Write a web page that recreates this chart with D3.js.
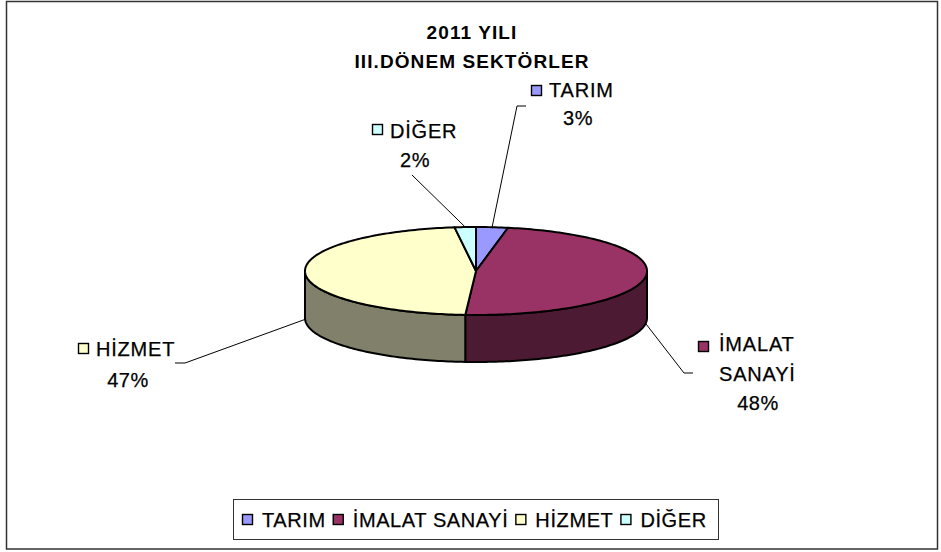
<!DOCTYPE html>
<html>
<head>
<meta charset="utf-8">
<script src="https://cdn.jsdelivr.net/npm/d3@7"></script>
<style>
html,body{margin:0;padding:0;background:#fff;}
svg{display:block;}
text{font-family:"Liberation Sans",Arial,sans-serif;fill:#000;}
.lbl{stroke:#000;stroke-width:0.25px;}
</style>
</head>
<body>
<svg id="chart" width="941" height="552"></svg>
<script>
// ---- data ----
const categories = ["TARIM", "İMALAT SANAYİ", "HİZMET", "DİĞER"];
const values = [3, 48, 47, 2];
const labelLines = [["TARIM"], ["İMALAT", "SANAYİ"], ["HİZMET"], ["DİĞER"]];
const topColors = ["#9999FF", "#993366", "#FFFFCC", "#CCFFFF"];
const sideColors = ["#4D4D80", "#4D1A33", "#80806B", "#668080"];
const titleLines = ["2011 YILI", "III.DÖNEM SEKTÖRLER"];

// ---- layout ----
const cx = 476, cy = 271, rx = 171, ry = 44, depth = 47;
const svg = d3.select("#chart");

// frame
svg.append("rect").attr("x", 6.5).attr("y", 1.5).attr("width", 931).attr("height", 547.5)
  .attr("fill", "#fff").attr("stroke", "#333").attr("stroke-width", 1.5);

// title
svg.selectAll("text.title").data(titleLines).enter().append("text")
  .attr("class", "title")
  .attr("x", 472).attr("y", (d, i) => 39 + i * 29)
  .attr("text-anchor", "middle")
  .style("font-weight", "bold").style("font-size", "19px")
  .style("letter-spacing", "1.1px")
  .text(d => d);

const total = d3.sum(values);
const pie = d3.pie().sort(null).value(d => d).startAngle(0).endAngle(2 * Math.PI);
const arcs = pie(values);
const pct = d3.format(".0%");

const px = a => cx + rx * Math.sin(a);
const py = (a, z) => cy - ry * Math.cos(a) + (z || 0);

function ellArc(a0, a1, z) {
  const n = Math.max(2, Math.ceil(Math.abs(a1 - a0) / 0.02));
  return d3.range(n + 1).map(i => {
    const a = a0 + (a1 - a0) * i / n;
    return [px(a), py(a, z)];
  });
}

const line = d3.line();
const gSide = svg.append("g");
const gTop = svg.append("g");

// side walls (front half)
arcs.forEach((d, i) => {
  const a0 = Math.max(d.startAngle, Math.PI / 2);
  const a1 = Math.min(d.endAngle, 3 * Math.PI / 2);
  if (a1 <= a0) return;
  const pts = ellArc(a0, a1, 0).concat(ellArc(a1, a0, depth));
  gSide.append("path").attr("d", line(pts) + "Z")
    .attr("fill", sideColors[i]).attr("stroke", "#000").attr("stroke-width", 2)
    .attr("stroke-linejoin", "round");
});

// top faces
arcs.forEach((d, i) => {
  const pts = [[cx, cy]].concat(ellArc(d.startAngle, d.endAngle, 0));
  gTop.append("path").attr("d", line(pts) + "Z")
    .attr("fill", topColors[i]).attr("stroke", "#000").attr("stroke-width", 2)
    .attr("stroke-linejoin", "round");
});

// data labels
const labelPos = [
  { box: [531, 85], text: [549, 97], pctPos: [578, 125], lead: [[526, 106], [517, 106]] },
  { box: [698, 341], text: [719, 351], pctPos: [758, 410], lead: [[693, 373], [684, 373]] },
  { box: [78, 343], text: [96, 356], pctPos: [128, 387], lead: [[175, 363], [185, 363]] },
  { box: [372, 124], text: [390, 138], pctPos: [415, 167], lead: [[412, 175]] }
];

const gLab = svg.append("g");
arcs.forEach((d, i) => {
  const L = labelPos[i];
  const mid = (d.startAngle + d.endAngle) / 2;
  const front = Math.cos(mid) < 0;
  const end = [px(mid), py(mid, front ? depth : 0)];
  gLab.append("path").attr("d", line(L.lead.concat([end])))
    .attr("fill", "none").attr("stroke", "#000").attr("stroke-width", 1);
  gLab.append("rect").attr("x", L.box[0] + 0.5).attr("y", L.box[1] + 0.5)
    .attr("width", 10).attr("height", 10)
    .attr("fill", topColors[i]).attr("stroke", "#000").attr("stroke-width", 1.4);
  labelLines[i].forEach((t, j) => {
    gLab.append("text").attr("class", "lbl").attr("x", L.text[0])
      .attr("y", L.text[1] + j * 30)
      .style("font-size", "20px").style("letter-spacing", "0.8px").text(t);
  });
  gLab.append("text").attr("class", "lbl").attr("x", L.pctPos[0]).attr("y", L.pctPos[1])
    .attr("text-anchor", "middle").style("font-size", "20px").style("letter-spacing", "0.5px")
    .text(pct(d.data / total));
});

// legend
const gLeg = svg.append("g");
gLeg.append("rect").attr("x", 233.5).attr("y", 499.5).attr("width", 485).attr("height", 40)
  .attr("fill", "#fff").attr("stroke", "#333").attr("stroke-width", 1);
let lx = 242;
categories.forEach((c, i) => {
  gLeg.append("rect").attr("x", lx + 0.5).attr("y", 514.5).attr("width", 10).attr("height", 10)
    .attr("fill", topColors[i]).attr("stroke", "#000").attr("stroke-width", 1.4);
  const t = gLeg.append("text").attr("class", "lbl").attr("x", lx + 20).attr("y", 527)
    .style("font-size", "20px").style("letter-spacing", "0.6px").text(c);
  lx += 20 + t.node().getComputedTextLength() + 7;
});
</script>
</body>
</html>
